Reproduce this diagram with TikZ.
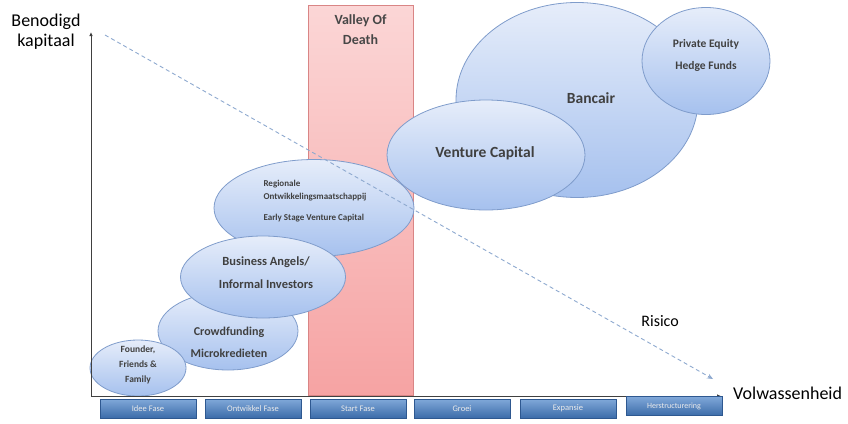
\documentclass[tikz,border=0pt]{standalone}
\usepackage{fontspec}
\setmainfont{Carlito}
\usetikzlibrary{shapes.geometric,arrows.meta}
\definecolor{bubline}{HTML}{7F9CCB}
\definecolor{bubtop}{HTML}{E6EDFA}
\definecolor{bubbot}{HTML}{A6C1EE}
\definecolor{pinktop}{HTML}{FBD6D6}
\definecolor{pinkbot}{HTML}{F6A3A3}
\definecolor{pinkline}{HTML}{D98585}
\definecolor{phtop}{HTML}{80A8D9}
\definecolor{phbot}{HTML}{3C6CA9}
\definecolor{phline}{HTML}{2E5890}
\definecolor{risk}{HTML}{8EA9CF}
\definecolor{axisc}{HTML}{404040}
\begin{document}
\begin{tikzpicture}[x=1pt,y=-1pt,
  bub/.style={ellipse, draw=bubline, line width=0.8pt, top color=bubtop, bottom color=bubbot,
    inner sep=0pt},
  btxt/.style={inner sep=0pt, align=center, text=black!75},
  phase/.style={rectangle, draw=phline, line width=0.5pt, top color=phtop, bottom color=phbot,
    minimum width=96pt, minimum height=19pt, inner sep=0pt, text=white!92!black,
    font=\fontsize{8.5}{9}\selectfont},
  lbl/.style={text=black, font=\fontsize{18}{20}\selectfont, inner sep=0pt, align=center},
  axis/.style={draw=axisc, line width=0.9pt, -{Latex[length=4pt,width=3.5pt]}},
]
\useasboundingbox (0,0) rectangle (848,423);

% valley of death
\node[rectangle, draw=pinkline, line width=0.8pt, top color=pinktop, bottom color=pinkbot,
  minimum width=105pt, minimum height=390pt, inner sep=0pt] (valley) at (360.5,200) {};
\node[font=\fontsize{14}{20}\selectfont\bfseries, text=black!72, align=center, inner sep=0pt]
  (vtext) at (360.5,30) {Valley Of\\Death};

% bubbles
\node[bub, minimum width=242pt, minimum height=195pt] (bancair) at (577,100) {};
\node[btxt, font=\fontsize{15.5}{17}\selectfont\bfseries] (bancairt) at (591,98) {Bancair};
\node[bub, minimum width=128pt, minimum height=107pt] (pe) at (706,61) {};
\node[btxt, font=\fontsize{11.5}{22}\selectfont\bfseries] (pet) at (706,55) {Private Equity\\Hedge Funds};
\node[bub, minimum width=198pt, minimum height=110pt] (vc) at (486,155) {};
\node[btxt, font=\fontsize{15.5}{17}\selectfont\bfseries] (vct) at (485,153) {Venture Capital};
\node[bub, minimum width=200pt, minimum height=97pt] (rom) at (314,208) {};
\node[btxt, align=left, font=\fontsize{9}{13.5}\selectfont\bfseries] (romt) at (315,201) {Regionale\\Ontwikkelingsmaatschappij\\[7pt]Early Stage Venture Capital};
\node[bub, minimum width=140pt, minimum height=78pt] (crowd) at (228,331) {};
\node[btxt, font=\fontsize{12}{22}\selectfont\bfseries] (crowdt) at (229,342) {Crowdfunding\\Microkredieten};
\node[bub, minimum width=96pt, minimum height=56pt] (founder) at (138,368) {};
\node[btxt, font=\fontsize{9.5}{15}\selectfont\bfseries] (foundert) at (138,365) {Founder,\\Friends \&\\Family};
\node[bub, minimum width=165pt, minimum height=82pt] (ba) at (263,277) {};
\node[btxt, font=\fontsize{12.5}{23}\selectfont\bfseries] (bat) at (266,273) {Business Angels/\\Informal Investors};

% axes
\coordinate (O) at (91,396);
\coordinate (ytop) at (91,32);
\coordinate (xend) at (721,396);
\draw[axis] (O) -- (ytop);
\draw[axis] (O) -- (xend);
\node[lbl] (ylab) at (46,32) {Benodigd\\kapitaal};
\node[lbl, anchor=base west] (xlab) at (733,399) {Volwassenheid};

% risk line
\coordinate (rs) at (105,35);
\coordinate (re) at (713,379);
\draw[risk, line width=0.9pt, dash pattern=on 4pt off 3pt, -{Stealth[length=6pt,width=5pt]}] (rs) -- (re);
\node[lbl, anchor=base east, font=\fontsize{16}{18}\selectfont] (risico) at (679,326) {Risico};

% phases
\node[phase] (p1) at (148,408.5) {Idee Fase};
\node[phase] (p2) at (253,408.5) {Ontwikkel Fase};
\node[phase] (p3) at (358,408.5) {Start Fase};
\node[phase] (p4) at (462,408.5) {Groei};
\node[phase] (p5) at (568,408.5) {Expansie};
\node[phase, font=\fontsize{8}{9}\selectfont] (p6) at (674,406) {Herstructurering};
\end{tikzpicture}
\end{document}
